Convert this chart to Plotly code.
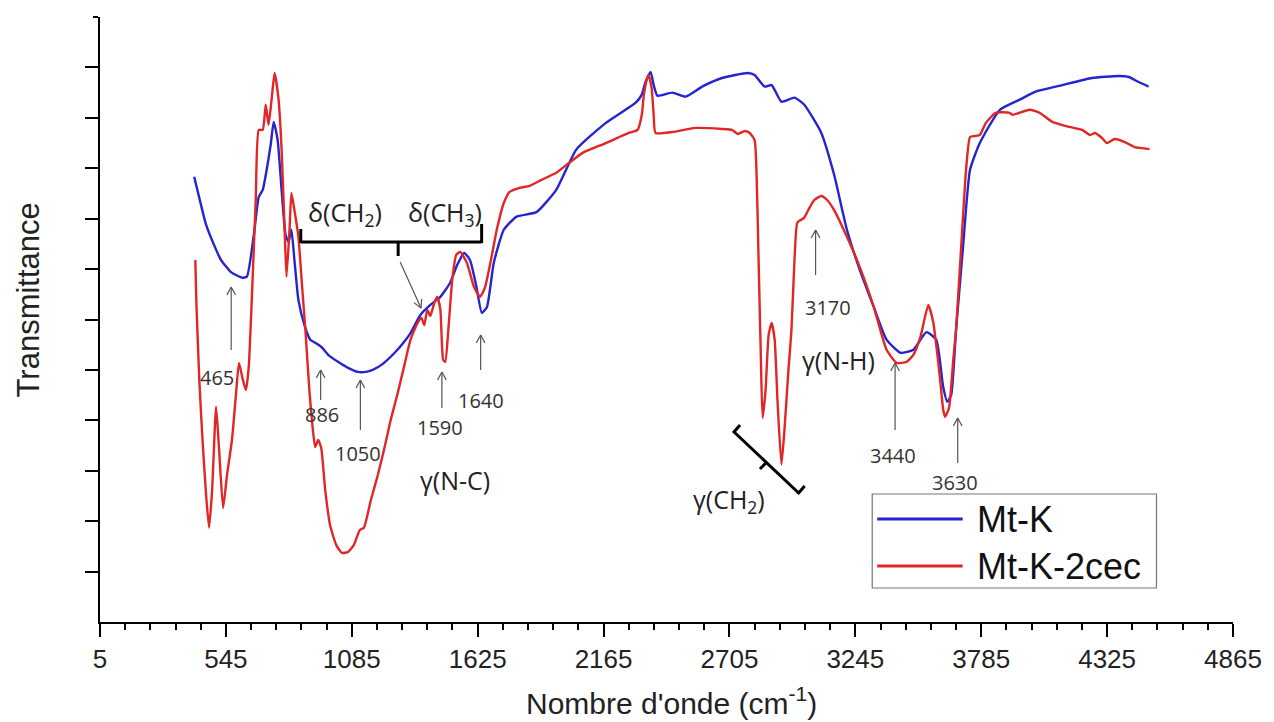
import math
import plotly.graph_objects as go

# ---------------- data (wavenumber, transmittance in arbitrary units) ----------------
mtk_x = [409, 431, 460, 494, 524, 567, 614, 635, 665, 686, 703, 720, 737, 750,
         767, 784, 801, 814, 826, 839, 856, 882, 907, 928, 954, 984, 1026, 1069,
         1111, 1145, 1175, 1218, 1269, 1303, 1337, 1379, 1422, 1465, 1507, 1537,
         1567, 1592, 1618, 1643, 1665, 1694, 1737, 1792, 1877, 1962, 2048, 2175,
         2303, 2329, 2345, 2367, 2380, 2396, 2460, 2516, 2588, 2673, 2784, 2813,
         2856, 2886, 2928, 2984, 3026, 3099, 3154, 3209, 3269, 3324, 3379, 3439,
         3494, 3550, 3592, 3622, 3639, 3656, 3677, 3707, 3737, 3779, 3865, 3950,
         4018, 4133, 4260, 4375, 4418, 4460, 4503]
mtk_y = [8.83, 8.41, 7.88, 7.48, 7.18, 6.94, 6.83, 6.85, 7.68, 8.43, 8.57, 8.97, 9.46, 9.92,
         9.56, 8.57, 7.68, 7.54, 7.78, 7.18, 6.39, 5.89, 5.60, 5.54, 5.46, 5.30, 5.16, 5.04,
         4.96, 4.96, 5.00, 5.12, 5.34, 5.52, 5.73, 6.09, 6.29, 6.45, 6.73, 7.08,
         7.32, 7.18, 6.69, 6.13, 6.25, 7.12, 7.78, 8.04, 8.13, 8.57, 9.37, 9.90,
         10.30, 10.46, 10.71, 10.91, 10.65, 10.44, 10.50, 10.42, 10.62, 10.79, 10.89, 10.85,
         10.62, 10.65, 10.32, 10.40, 10.26, 9.70, 8.87, 7.78, 6.92, 6.25, 5.60, 5.34,
         5.40, 5.75, 5.60, 4.66, 4.37, 4.50, 5.79, 7.44, 8.97, 9.50, 10.16, 10.36,
         10.52, 10.65, 10.79, 10.83, 10.81, 10.71, 10.62]

mtk2_x = [414, 418, 431, 443, 460, 473, 486, 503, 516, 533, 550, 571, 588, 601, 618, 631,
          643, 656, 673, 686, 703, 716, 728, 741, 754, 771, 784, 797, 805, 818, 826, 839,
          856, 873, 886, 903, 916, 928, 941, 954, 971, 992, 1018, 1043, 1069, 1094, 1120,
          1137, 1167, 1197, 1226, 1252, 1282, 1311, 1337, 1367, 1384, 1396, 1409, 1422,
          1439, 1452, 1465, 1477, 1486, 1499, 1516, 1533, 1550, 1579, 1609, 1635, 1656,
          1682, 1707, 1737, 1762, 1805, 1848, 1899, 1962, 2018, 2077, 2175, 2273, 2311,
          2329, 2337, 2350, 2358, 2371, 2380, 2388, 2460, 2558, 2673, 2716, 2741, 2771,
          2792, 2813, 2822, 2830, 2839, 2847, 2860, 2873, 2886, 2899, 2911, 2928, 2941,
          2958, 2971, 2984, 2996, 3013, 3026, 3043, 3069, 3099, 3124, 3154, 3209, 3269,
          3324, 3379, 3422, 3465, 3494, 3524, 3558, 3579, 3592, 3609, 3622, 3630, 3647,
          3665, 3677, 3699, 3720, 3737, 3758, 3779, 3805, 3847, 3907, 3920, 3992, 4035,
          4090, 4163, 4218, 4252, 4273, 4303, 4324, 4358, 4401, 4443, 4473, 4507]
mtk2_y = [7.18, 6.39, 4.80, 3.75, 2.52, 1.87, 2.62, 4.27, 3.41, 2.26, 2.92, 3.61, 4.50, 5.14,
          4.80, 4.60, 5.06, 6.39, 8.37, 9.76, 9.76, 10.26, 9.86, 10.36, 10.89, 10.36, 9.37,
          7.78, 6.85, 7.78, 8.51, 8.17, 7.64, 6.59, 5.79, 4.60, 3.91, 3.47, 3.61, 3.45,
          2.62, 1.92, 1.53, 1.37, 1.39, 1.53, 1.83, 1.87, 2.42, 2.92, 3.47, 4.01, 4.54,
          5.10, 5.60, 5.93, 6.03, 5.89, 6.19, 6.07, 6.33, 6.45, 6.19, 5.20, 5.16, 5.79,
          6.79, 7.28, 7.34, 7.12, 6.65, 6.45, 6.63, 7.18, 7.78, 8.31, 8.53, 8.61, 8.65,
          8.77, 8.91, 9.11, 9.31, 9.50, 9.70, 9.76, 10.06, 10.42, 10.75, 10.85, 10.60,
          10.06, 9.70, 9.72, 9.80, 9.78, 9.76, 9.68, 9.74, 9.70, 9.56, 8.77, 7.18, 5.40,
          4.05, 4.60, 5.69, 5.93, 5.60, 4.40, 3.12, 3.81, 5.00, 5.79, 7.18, 7.92, 7.98,
          8.02, 8.17, 8.37, 8.45, 8.37, 8.17, 7.64, 6.98, 6.25, 5.40, 5.14, 5.16, 5.30,
          5.65, 6.29, 5.95, 5.50, 4.80, 4.21, 4.07, 4.25, 5.20, 5.79, 7.44, 8.97, 9.62,
          9.64, 9.66, 9.90, 10.10, 10.10, 10.06, 10.16, 10.10, 9.92, 9.82, 9.76, 9.66,
          9.70, 9.60, 9.50, 9.58, 9.52, 9.42, 9.40, 9.38]

series_names = ["Mt-K", "Mt-K-2cec"]
x_tick_vals = [5, 545, 1085, 1625, 2165, 2705, 3245, 3785, 4325, 4865]
x_tick_text = [str(v) for v in x_tick_vals]
y_tick_vals = [1, 2, 3, 4, 5, 6, 7, 8, 9, 10, 11]

peak_labels = ["465", "886", "1050", "1590", "1640", "3170", "3440", "3630"]

BLUE = "rgb(36,36,210)"
RED = "rgb(226,38,38)"

# ---------------- layout helpers (pixel -> axis / paper coords, decorations only) ----------------
L, R, T, B = 100, 34, 17, 100
W, H = 1274, 722
X0, X1 = 5, 4865
Y0, Y1 = 0, 12


def px_x(px):
    return X0 + (px - L) * (X1 - X0) / (W - L - R)


def px_y(py):
    return Y0 + (H - B - py) * (Y1 - Y0) / (H - B - T)


def pp_x(px):
    return (px - L) / (W - L - R)


def pp_y(py):
    return (H - B - py) / (H - B - T)


fig = go.Figure()
fig.add_trace(go.Scatter(x=mtk_x, y=mtk_y, name=series_names[0], mode="lines",
                         line=dict(color=BLUE, width=2.4, shape="spline", smoothing=0.5)))
fig.add_trace(go.Scatter(x=mtk2_x, y=mtk2_y, name=series_names[1], mode="lines",
                         line=dict(color=RED, width=2.4, shape="spline", smoothing=0.5)))

ann = []
shapes = []

num_font = dict(family="Open Sans, Noto Sans, sans-serif", size=20, color="#333333")
lab_font = dict(family="Open Sans, Noto Sans, sans-serif", size=25, color="#222222")


def seg(p, q, w=3, c="black"):
    shapes.append(dict(type="line", xref="x", yref="y",
                       x0=px_x(p[0]), y0=px_y(p[1]), x1=px_x(q[0]), y1=px_y(q[1]),
                       line=dict(color=c, width=w)))


# number labels (text centre in pixels)
num_pos = [(218, 377), (323, 414), (360, 453), (442, 427), (483, 400),
           (832, 307), (898, 455), (960, 482)]
for t, (px, py) in zip(peak_labels, num_pos):
    ann.append(dict(x=px_x(px), y=px_y(py), xref="x", yref="y", text=t, showarrow=False,
                    font=num_font, xanchor="center", yanchor="middle"))

# thin open arrows (head, tail) in pixels
arrows = [((232, 287), (232, 350)), ((322, 370), (322, 400)), ((362, 380), (362, 430)),
          ((444, 372), (444, 408)), ((483, 335), (483, 370)), ((820, 230), (820, 275)),
          ((900, 363), (900, 430)), ((963, 418), (963, 463)), ((423, 308), (402, 262))]
AC = "#555555"
for (hx, hy), (tx, ty) in arrows:
    seg((tx, ty), (hx, hy), w=1.2, c=AC)
    ang = math.atan2(ty - hy, tx - hx)
    for d in (-0.5, 0.5):
        a = ang + d
        seg((hx, hy), (hx + 9 * math.cos(a), hy + 9 * math.sin(a)), w=1.2, c=AC)

# band labels
band = [("γ(N-C)", 457, 480), ("γ(N-H)", 843, 360), ("γ(CH<sub>2</sub>)", 733, 500),
        ("δ(CH<sub>2</sub>)", 347, 213), ("δ(CH<sub>3</sub>)", 447, 213)]
for t, px, py in band:
    ann.append(dict(x=px_x(px), y=px_y(py), xref="x", yref="y", text=t, showarrow=False,
                    font=lab_font, xanchor="center", yanchor="middle"))

# brackets
seg((302, 229), (302, 243))
seg((302, 242), (484, 242))
seg((484, 243), (484, 224))
seg((400, 242), (400, 256))

seg((738, 432), (803, 493))
seg((737, 433), (744, 425))
seg((802, 494), (809, 486))
seg((771, 462), (764, 469))

# legend (drawn)
shapes.append(dict(type="rect", xref="x", yref="y", x0=px_x(877), y0=px_y(494),
                   x1=px_x(1163), y1=px_y(588), line=dict(color="#777777", width=1.2),
                   fillcolor="white", layer="above"))
leg_rows = [(series_names[0], BLUE, 519), (series_names[1], RED, 566)]
for name, col, py in leg_rows:
    shapes.append(dict(type="line", xref="x", yref="y", x0=px_x(882), y0=px_y(py),
                       x1=px_x(968), y1=px_y(py), line=dict(color=col, width=3), layer="above"))
    ann.append(dict(x=px_x(980), y=px_y(py), xref="x", yref="y", text=name, showarrow=False,
                    font=dict(family="Liberation Sans, Arial, sans-serif", size=36, color="#111111"),
                    xanchor="left", yanchor="middle"))

# axis titles (paper coords so they show outside the plot area)
ann.append(dict(x=pp_x(675), y=pp_y(701), xref="paper", yref="paper",
                text="Nombre d'onde (cm<sup>-1</sup>)",
                showarrow=False, xanchor="center", yanchor="middle",
                font=dict(family="Liberation Sans, Arial, sans-serif", size=30, color="#222222")))
ann.append(dict(x=pp_x(28), y=pp_y(300), xref="paper", yref="paper", text="Transmittance",
                textangle=-90, showarrow=False, xanchor="center", yanchor="middle",
                font=dict(family="Liberation Sans, Arial, sans-serif", size=31, color="#222222")))

fig.update_layout(
    width=W, height=H, margin=dict(l=L, r=R, t=T, b=B),
    paper_bgcolor="white", plot_bgcolor="white", showlegend=False,
    annotations=ann, shapes=shapes,
)
fig.update_xaxes(range=[X0, X1], tickmode="array", tickvals=x_tick_vals, ticktext=x_tick_text,
                 showline=True, linecolor="black", linewidth=2, ticks="outside", ticklen=13,
                 tickwidth=2, tickcolor="black", showgrid=False, zeroline=False,
                 tickfont=dict(family="Liberation Sans, Arial, sans-serif", size=26, color="#222222"),
                 minor=dict(tick0=5, dtick=108, ticklen=6, tickwidth=2, tickcolor="black",
                            ticks="outside", showgrid=False))
fig.update_yaxes(range=[Y0, Y1], tickmode="array", tickvals=y_tick_vals, showticklabels=False,
                 showline=True, linecolor="black", linewidth=2, ticks="outside", ticklen=13,
                 tickwidth=2, tickcolor="black", showgrid=False, zeroline=False,
                 minor=dict(tickmode="array", tickvals=[12], ticklen=5, tickwidth=2,
                            tickcolor="black", ticks="outside", showgrid=False))

fig.write_html("out.html")
